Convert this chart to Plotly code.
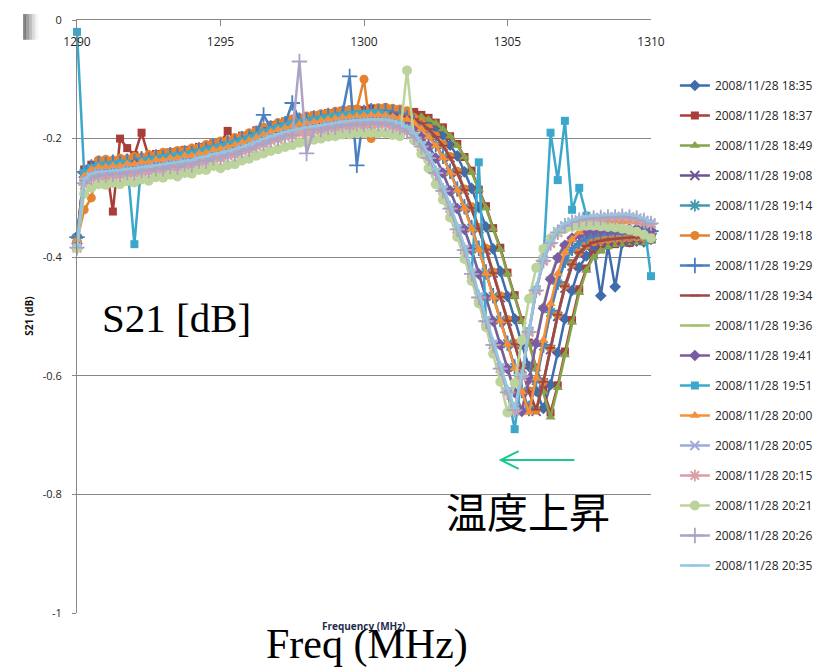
import plotly.graph_objects as go

# Sweep frequencies (MHz)
FREQ_MHZ = [
    1290.00, 1290.25, 1290.50, 1290.75, 1291.00, 1291.25, 1291.50, 1291.75, 1292.00, 1292.25,
    1292.50, 1292.75, 1293.00, 1293.25, 1293.50, 1293.75, 1294.00, 1294.25, 1294.50, 1294.75,
    1295.00, 1295.25, 1295.50, 1295.75, 1296.00, 1296.25, 1296.50, 1296.75, 1297.00, 1297.25,
    1297.50, 1297.75, 1298.00, 1298.25, 1298.50, 1298.75, 1299.00, 1299.25, 1299.50, 1299.75,
    1300.00, 1300.25, 1300.50, 1300.75, 1301.00, 1301.25, 1301.50, 1301.75, 1302.00, 1302.25,
    1302.50, 1302.75, 1303.00, 1303.25, 1303.50, 1303.75, 1304.00, 1304.25, 1304.50, 1304.75,
    1305.00, 1305.25, 1305.50, 1305.75, 1306.00, 1306.25, 1306.50, 1306.75, 1307.00, 1307.25,
    1307.50, 1307.75, 1308.00, 1308.25, 1308.50, 1308.75, 1309.00, 1309.25, 1309.50, 1309.75,
    1310.00,
]

# S21 (dB) per measurement time
S21_1835 = [
    -.365, -.256, -.246, -.240, -.243, -.238, -.241, -.236, -.237, -.232, -.234, -.229, -.230, -.225, -.227, -.222, -.223, -.217, -.216, -.211,
    -.210, -.205, -.204, -.198, -.196, -.189, -.186, -.180, -.178, -.173, -.172, -.167, -.167, -.163, -.163, -.159, -.159, -.155, -.156, -.153,
    -.154, -.151, -.153, -.151, -.154, -.153, -.157, -.159, -.166, -.171, -.183, -.194, -.211, -.229, -.256, -.284, -.316, -.349, -.386, -.424,
    -.466, -.504, -.546, -.584, -.626, -.655, -.615, -.561, -.504, -.456, -.417, -.398, -.385, -.465, -.381, -.450, -.376, -.374, -.373, -.374, -.370,
]
S21_1837 = [
    -.372, -.252, -.244, -.239, -.238, -.323, -.200, -.216, -.228, -.190, -.231, -.226, -.227, -.223, -.223, -.219, -.220, -.214, -.214, -.208,
    -.208, -.187, -.202, -.195, -.194, -.186, -.184, -.177, -.177, -.171, -.170, -.165, -.165, -.161, -.161, -.157, -.157, -.153, -.154, -.151,
    -.152, -.149, -.151, -.149, -.152, -.151, -.155, -.155, -.160, -.165, -.173, -.181, -.196, -.209, -.231, -.254, -.286, -.314, -.351, -.384,
    -.426, -.464, -.506, -.544, -.586, -.624, -.662, -.616, -.559, -.506, -.454, -.419, -.396, -.387, -.379, -.378, -.374, -.376, -.372, -.373, -.370,
]
S21_1849 = [
    -.378, -.262, -.250, -.247, -.244, -.246, -.242, -.243, -.239, -.239, -.236, -.236, -.232, -.232, -.229, -.229, -.225, -.224, -.219, -.218,
    -.213, -.212, -.207, -.205, -.199, -.196, -.190, -.187, -.182, -.180, -.176, -.174, -.171, -.170, -.167, -.166, -.163, -.162, -.160, -.160,
    -.158, -.158, -.156, -.158, -.157, -.160, -.160, -.163, -.163, -.168, -.174, -.184, -.196, -.212, -.231, -.257, -.286, -.317, -.352, -.387,
    -.428, -.466, -.508, -.546, -.588, -.627, -.670, -.620, -.565, -.510, -.460, -.422, -.400, -.389, -.383, -.379, -.378, -.376, -.375, -.376, -.373,
]
S21_1908 = [
    -.380, -.264, -.254, -.249, -.249, -.247, -.247, -.244, -.244, -.240, -.241, -.237, -.237, -.233, -.234, -.230, -.230, -.225, -.224, -.219,
    -.218, -.213, -.212, -.206, -.204, -.197, -.194, -.188, -.186, -.181, -.180, -.175, -.175, -.171, -.171, -.167, -.167, -.163, -.164, -.161,
    -.162, -.159, -.161, -.159, -.162, -.163, -.168, -.170, -.176, -.185, -.197, -.212, -.232, -.258, -.287, -.318, -.352, -.388, -.427, -.468,
    -.508, -.547, -.588, -.627, -.660, -.612, -.556, -.500, -.452, -.415, -.395, -.384, -.378, -.376, -.374, -.373, -.372, -.373, -.370, -.371, -.368,
]
S21_1914 = [
    -.368, -.258, -.250, -.244, -.246, -.242, -.244, -.240, -.241, -.236, -.238, -.233, -.234, -.229, -.231, -.226, -.227, -.221, -.221, -.215,
    -.214, -.209, -.208, -.202, -.200, -.193, -.190, -.184, -.182, -.177, -.176, -.171, -.171, -.167, -.167, -.163, -.163, -.159, -.160, -.157,
    -.158, -.155, -.157, -.155, -.158, -.160, -.166, -.173, -.183, -.196, -.211, -.231, -.256, -.286, -.316, -.351, -.386, -.426, -.466, -.506,
    -.546, -.586, -.626, -.658, -.608, -.550, -.493, -.445, -.408, -.388, -.377, -.371, -.368, -.366, -.365, -.365, -.364, -.363, -.362, -.363, -.360,
]
S21_1918 = [
    -.372, -.320, -.300, -.236, -.235, -.236, -.233, -.234, -.230, -.231, -.227, -.227, -.223, -.223, -.220, -.220, -.216, -.215, -.210, -.209,
    -.204, -.203, -.198, -.196, -.190, -.187, -.181, -.178, -.173, -.171, -.167, -.165, -.162, -.161, -.158, -.157, -.154, -.153, -.151, -.150,
    -.100, -.200, -.148, -.147, -.149, -.150, -.153, -.165, -.172, -.182, -.195, -.210, -.230, -.255, -.285, -.315, -.350, -.385, -.425, -.465,
    -.505, -.545, -.585, -.625, -.658, -.610, -.553, -.497, -.448, -.411, -.391, -.380, -.374, -.371, -.370, -.369, -.368, -.367, -.366, -.367, -.364,
]
S21_1929 = [
    -.366, -.256, -.248, -.242, -.244, -.240, -.242, -.238, -.239, -.234, -.236, -.231, -.232, -.227, -.229, -.224, -.225, -.219, -.219, -.213,
    -.212, -.207, -.206, -.200, -.198, -.191, -.160, -.182, -.180, -.175, -.140, -.169, -.169, -.165, -.165, -.161, -.161, -.157, -.095, -.245,
    -.156, -.153, -.155, -.153, -.156, -.158, -.165, -.172, -.182, -.195, -.210, -.230, -.255, -.285, -.315, -.350, -.385, -.425, -.465, -.505,
    -.545, -.585, -.625, -.655, -.605, -.548, -.490, -.442, -.405, -.384, -.373, -.367, -.364, -.362, -.361, -.361, -.360, -.359, -.358, -.359, -.356,
]
S21_1934 = [
    -.374, -.259, -.253, -.246, -.248, -.243, -.246, -.241, -.243, -.238, -.240, -.234, -.236, -.230, -.233, -.227, -.229, -.223, -.222, -.217,
    -.216, -.210, -.210, -.204, -.202, -.195, -.192, -.186, -.184, -.179, -.177, -.173, -.172, -.169, -.168, -.165, -.164, -.161, -.161, -.158,
    -.159, -.157, -.158, -.157, -.159, -.161, -.163, -.167, -.174, -.184, -.197, -.212, -.232, -.257, -.287, -.317, -.352, -.387, -.427, -.467,
    -.507, -.547, -.587, -.627, -.657, -.610, -.553, -.497, -.449, -.412, -.392, -.381, -.375, -.372, -.370, -.369, -.368, -.367, -.366, -.367, -.364,
]
S21_1936 = [
    -.380, -.266, -.256, -.251, -.251, -.249, -.248, -.246, -.246, -.242, -.243, -.239, -.239, -.235, -.236, -.232, -.232, -.227, -.226, -.221,
    -.220, -.215, -.214, -.208, -.206, -.199, -.196, -.190, -.188, -.183, -.182, -.177, -.177, -.173, -.173, -.169, -.169, -.165, -.166, -.163,
    -.164, -.161, -.163, -.162, -.165, -.168, -.174, -.184, -.197, -.212, -.232, -.257, -.287, -.317, -.352, -.387, -.427, -.467, -.507, -.547,
    -.587, -.627, -.657, -.604, -.542, -.482, -.434, -.398, -.377, -.366, -.360, -.356, -.354, -.353, -.352, -.352, -.351, -.350, -.350, -.352, -.353,
]
S21_1941 = [
    -.377, -.265, -.254, -.252, -.249, -.250, -.247, -.247, -.244, -.243, -.241, -.240, -.237, -.236, -.234, -.233, -.230, -.228, -.224, -.222,
    -.218, -.216, -.212, -.209, -.204, -.200, -.194, -.191, -.186, -.184, -.180, -.178, -.175, -.174, -.171, -.170, -.167, -.166, -.164, -.164,
    -.162, -.162, -.161, -.163, -.164, -.169, -.175, -.185, -.198, -.213, -.233, -.258, -.288, -.318, -.353, -.388, -.428, -.468, -.508, -.548,
    -.588, -.628, -.660, -.606, -.545, -.486, -.437, -.401, -.380, -.368, -.362, -.358, -.356, -.355, -.354, -.354, -.353, -.352, -.352, -.354, -.355,
]
S21_1951 = [
    -.020, -.258, -.250, -.246, -.245, -.244, -.242, -.242, -.378, -.238, -.237, -.235, -.233, -.231, -.230, -.228, -.226, -.223, -.220, -.217,
    -.214, -.211, -.208, -.204, -.200, -.195, -.190, -.186, -.182, -.179, -.176, -.173, -.171, -.169, -.167, -.165, -.163, -.161, -.160, -.159,
    -.158, -.157, -.157, -.160, -.166, -.173, -.183, -.196, -.211, -.231, -.256, -.286, -.316, -.351, -.386, -.426, -.240, -.506, -.546, -.586,
    -.626, -.690, -.600, -.525, -.455, -.405, -.190, -.270, -.170, -.320, -.283, -.330, -.341, -.338, -.336, -.335, -.334, -.335, -.336, -.340, -.432,
]
S21_2000 = [
    -.371, -.263, -.252, -.248, -.248, -.246, -.246, -.243, -.243, -.240, -.240, -.236, -.236, -.233, -.233, -.229, -.229, -.225, -.224, -.219,
    -.217, -.214, -.211, -.207, -.203, -.198, -.193, -.189, -.185, -.182, -.179, -.176, -.174, -.172, -.170, -.168, -.166, -.164, -.163, -.162,
    -.161, -.160, -.160, -.161, -.163, -.165, -.168, -.174, -.184, -.197, -.212, -.232, -.257, -.287, -.317, -.352, -.387, -.427, -.467, -.507,
    -.547, -.587, -.627, -.662, -.604, -.540, -.478, -.428, -.392, -.370, -.358, -.350, -.346, -.343, -.342, -.341, -.341, -.340, -.341, -.343, -.345,
]
S21_2005 = [
    -.382, -.272, -.263, -.258, -.262, -.257, -.260, -.254, -.257, -.251, -.254, -.248, -.250, -.244, -.247, -.240, -.243, -.236, -.237, -.230,
    -.231, -.224, -.225, -.217, -.217, -.208, -.207, -.199, -.199, -.192, -.193, -.186, -.188, -.182, -.184, -.178, -.180, -.174, -.177, -.172,
    -.175, -.171, -.174, -.172, -.176, -.180, -.187, -.198, -.212, -.232, -.257, -.287, -.317, -.352, -.387, -.427, -.467, -.507, -.547, -.587,
    -.627, -.655, -.600, -.525, -.455, -.405, -.375, -.357, -.347, -.341, -.337, -.335, -.334, -.333, -.332, -.332, -.331, -.332, -.334, -.338, -.342,
]
S21_2015 = [
    -.385, -.278, -.268, -.265, -.265, -.263, -.263, -.260, -.260, -.257, -.257, -.253, -.253, -.250, -.250, -.246, -.246, -.241, -.240, -.235,
    -.234, -.229, -.228, -.222, -.220, -.213, -.210, -.204, -.202, -.197, -.196, -.191, -.191, -.187, -.187, -.183, -.183, -.179, -.180, -.177,
    -.178, -.175, -.177, -.176, -.180, -.183, -.189, -.199, -.214, -.233, -.258, -.288, -.318, -.353, -.388, -.428, -.468, -.508, -.548, -.588,
    -.628, -.660, -.602, -.527, -.457, -.407, -.377, -.359, -.348, -.342, -.338, -.336, -.335, -.334, -.333, -.333, -.332, -.333, -.335, -.339, -.344,
]
S21_2021 = [
    -.385, -.293, -.283, -.277, -.278, -.275, -.277, -.272, -.274, -.269, -.271, -.265, -.266, -.261, -.264, -.258, -.259, -.253, -.253, -.246,
    -.250, -.245, -.243, -.237, -.234, -.229, -.225, -.221, -.218, -.214, -.211, -.207, -.206, -.202, -.200, -.197, -.196, -.193, -.193, -.191,
    -.191, -.190, -.191, -.191, -.194, -.196, -.085, -.203, -.226, -.250, -.277, -.303, -.333, -.366, -.403, -.440, -.478, -.518, -.563, -.610,
    -.662, -.612, -.540, -.470, -.418, -.386, -.368, -.358, -.352, -.349, -.348, -.347, -.347, -.348, -.349, -.350, -.352, -.354, -.357, -.362, -.368,
]
S21_2026 = [
    -.384, -.275, -.266, -.262, -.262, -.260, -.260, -.257, -.258, -.254, -.254, -.251, -.251, -.247, -.248, -.243, -.244, -.238, -.238, -.233,
    -.232, -.227, -.226, -.220, -.218, -.211, -.208, -.202, -.200, -.195, -.194, -.070, -.225, -.185, -.185, -.181, -.181, -.177, -.178, -.175,
    -.176, -.173, -.175, -.174, -.178, -.181, -.188, -.198, -.213, -.233, -.258, -.288, -.318, -.353, -.388, -.428, -.468, -.508, -.548, -.588,
    -.628, -.658, -.601, -.526, -.456, -.406, -.376, -.358, -.347, -.341, -.337, -.335, -.334, -.333, -.332, -.332, -.331, -.332, -.334, -.338, -.343,
]
S21_2035 = [
    -.380, -.268, -.259, -.256, -.255, -.254, -.253, -.251, -.250, -.248, -.247, -.245, -.243, -.241, -.240, -.237, -.236, -.232, -.230, -.226,
    -.224, -.221, -.218, -.214, -.210, -.205, -.200, -.196, -.192, -.189, -.186, -.183, -.181, -.179, -.177, -.175, -.173, -.171, -.170, -.169,
    -.168, -.167, -.167, -.168, -.170, -.174, -.180, -.190, -.206, -.226, -.251, -.281, -.311, -.346, -.381, -.421, -.461, -.501, -.541, -.581,
    -.621, -.655, -.598, -.522, -.452, -.402, -.372, -.354, -.343, -.337, -.333, -.331, -.330, -.329, -.328, -.328, -.327, -.328, -.330, -.334, -.340,
]

TIMES = [
    "2008/11/28 18:35", "2008/11/28 18:37", "2008/11/28 18:49", "2008/11/28 19:08",
    "2008/11/28 19:14", "2008/11/28 19:18", "2008/11/28 19:29", "2008/11/28 19:34",
    "2008/11/28 19:36", "2008/11/28 19:41", "2008/11/28 19:51", "2008/11/28 20:00",
    "2008/11/28 20:05", "2008/11/28 20:15", "2008/11/28 20:21", "2008/11/28 20:26",
    "2008/11/28 20:35",
]
SERIES = [
    S21_1835, S21_1837, S21_1849, S21_1908, S21_1914, S21_1918, S21_1929, S21_1934,
    S21_1936, S21_1941, S21_1951, S21_2000, S21_2005, S21_2015, S21_2021, S21_2026,
    S21_2035,
]
COLORS = [
    "#3F6DAA", "#A83D3A", "#86A44A", "#6B5590", "#4499B0", "#E3822F", "#4A7FC0", "#9C4846",
    "#A3C16A", "#7A5CA3", "#3BA8CB", "#F78F36", "#9CAAD9", "#D9A0A6", "#BCD39C", "#ADA3C4",
    "#93C6DF",
]
SYMBOLS = [
    "diamond", "square", "triangle-up", "x-thin-open", "asterisk-open", "circle",
    "cross-thin-open", "line-ew-open", "line-ew-open", "diamond", "square", "triangle-up",
    "x-thin-open", "asterisk-open", "circle", "cross-thin-open", "line-ew-open",
]
SIZES = {"diamond": 9, "square": 8, "triangle-up": 9, "x-thin-open": 9,
         "asterisk-open": 10, "circle": 9, "cross-thin-open": 11, "line-ew-open": 7}

X_TICKS = [1290, 1295, 1300, 1305, 1310]
X_LABELS = ["1290", "1295", "1300", "1305", "1310"]
Y_TICKS = [0, -0.2, -0.4, -0.6, -0.8, -1]
Y_LABELS = ["0", "-0.2", "-0.4", "-0.6", "-0.8", "-1"]

# Arrow marking the downward frequency shift (data units)
ARROW_TAIL = (1307.33, -0.742)
ARROW_TIP = (1304.77, -0.742)
ARROW_ARM_X = 1305.39
ARROW_ARM_DY = 0.015

AXIS_GRAY = "#878787"
TEXT = "#262626"

fig = go.Figure()
for name, vals, color, sym in zip(TIMES, SERIES, COLORS, SYMBOLS):
    is_open = sym.endswith("open")
    size = SIZES[sym] + (1 if name.endswith("20:21") else 0)
    fig.add_trace(go.Scatter(
        x=FREQ_MHZ, y=vals, name=name, mode="lines+markers", legendgroup=name,
        cliponaxis=False,
        line=dict(color=color, width=2.5),
        marker=dict(symbol=sym, size=size, color=color,
                    line=dict(color=color, width=1.8 if is_open else 0)),
    ))

fig.update_layout(
    width=830, height=668,
    margin=dict(l=77, r=176, t=13, b=55),
    paper_bgcolor="white", plot_bgcolor="white",
    font=dict(family="Open Sans, sans-serif", color=TEXT),
    showlegend=True,
    legend=dict(x=1.0416, xanchor="left", y=0.914, yanchor="top",
                font=dict(size=12, color=TEXT), tracegroupgap=11, itemwidth=30,
                bgcolor="rgba(0,0,0,0)"),
)
fig.update_xaxes(
    range=[1290, 1310], side="top", tickvals=X_TICKS, ticktext=X_LABELS,
    ticks="inside", ticklen=6, tickcolor=AXIS_GRAY, ticklabelstandoff=-32,
    showline=True, linecolor=AXIS_GRAY, linewidth=1, showgrid=False, zeroline=False,
    tickfont=dict(size=12, color=TEXT),
)
fig.update_yaxes(
    range=[-1, 0], tickvals=Y_TICKS, ticktext=Y_LABELS,
    ticks="outside", ticklen=4, tickcolor=AXIS_GRAY, ticklabelstandoff=8,
    showline=True, linecolor=AXIS_GRAY, linewidth=1,
    showgrid=True, gridcolor=AXIS_GRAY, gridwidth=1, zeroline=False,
    tickfont=dict(size=11, color=TEXT),
)

# Small axis titles
fig.add_annotation(text="<b>S21 (dB)</b>", xref="paper", yref="paper", x=-0.0849, y=0.5,
                   xanchor="center", yanchor="middle",
                   textangle=-90, showarrow=False, font=dict(size=10, color="#111111"))
fig.add_annotation(text="<b>Frequency (MHz)</b>", xref="paper", yref="paper", x=0.4991, y=-0.0217,
                   xanchor="center", yanchor="middle",
                   showarrow=False, font=dict(size=10, color="#1F2D4D"))

# Large overlay labels
fig.add_annotation(text="S21 [dB]", xref="x", yref="y", x=1293.47, y=-0.503, showarrow=False,
                   xanchor="center", yanchor="middle",
                   font=dict(family="Liberation Serif, Times New Roman, serif", size=41, color="black"))
fig.add_annotation(text="Freq (MHz)", xref="paper", yref="paper", x=0.5052, y=-0.053,
                   xanchor="center", yanchor="middle", showarrow=False,
                   font=dict(family="Liberation Serif, Times New Roman, serif", size=42, color="black"))
fig.add_annotation(text="温度上昇", xref="x", yref="y", x=1305.70, y=-0.827, showarrow=False,
                   xanchor="center", yanchor="middle",
                   font=dict(family="Noto Sans CJK JP, sans-serif", size=41, color="black"))

# Open-headed arrow
tx, ty = ARROW_TAIL
hx, hy = ARROW_TIP
fig.add_shape(type="path", xref="x", yref="y",
              path=(f"M {tx},{ty} L {hx},{hy} "
                    f"M {ARROW_ARM_X},{hy + ARROW_ARM_DY} L {hx},{hy} L {ARROW_ARM_X},{hy - ARROW_ARM_DY}"),
              line=dict(color="#19C98F", width=2))

# Gray gradient tab in the top-left corner
tab_shades = ["#6a6a6a", "#7a7a7a", "#8b8b8b", "#9c9c9c", "#adadad", "#bebebe",
              "#cfcfcf", "#dfdfdf", "#ececec", "#f6f6f6"]
for k, shade in enumerate(tab_shades):
    px0 = 23 + 1.5 * k
    fig.add_shape(type="rect", xref="paper", yref="paper",
                  x0=(px0 - 77) / 577, x1=(px0 + 1.5 - 77) / 577,
                  y0=(613 - 33) / 600, y1=(613 - 7) / 600,
                  fillcolor=shade, line=dict(width=0), layer="below")

fig.write_html("out.html")
